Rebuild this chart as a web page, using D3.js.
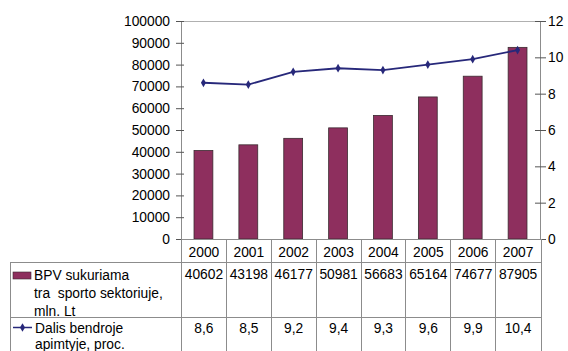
<!DOCTYPE html>
<html>
<head>
<meta charset="utf-8">
<script src="https://cdn.jsdelivr.net/npm/d3@7"></script>
<style>
  html, body { margin: 0; padding: 0; background: #fff; }
  svg text { font-family: "Liberation Sans", Arial, sans-serif; font-size: 13.8px; fill: #000; white-space: pre; }
</style>
</head>
<body>
<svg id="chart" width="568" height="351"></svg>
<script>
// Sport sector value added and its share of the total economy, 2000-2007
const years = ["2000", "2001", "2002", "2003", "2004", "2005", "2006", "2007"];
const bpv = [40602, 43198, 46177, 50981, 56683, 65164, 74677, 87905];
const dalis = [8.6, 8.5, 9.2, 9.4, 9.3, 9.6, 9.9, 10.4];
const dalisLabels = ["8,6", "8,5", "9,2", "9,4", "9,3", "9,6", "9,9", "10,4"];
const leftTicks = [0, 10000, 20000, 30000, 40000, 50000, 60000, 70000, 80000, 90000, 100000];
const rightTicks = [0, 2, 4, 6, 8, 10, 12];
const barLegend = ["BPV sukuriama", "tra  sporto sektoriuje,", "mln. Lt"];
const lineLegend = ["Dalis bendroje", "apimtyje, proc."];

const barColor = "#8e2f5e";
const lineColor = "#27287a";
const gridColor = "#8c8c8c";

const svg = d3.select("#chart");
const plotLeft = 181, plotRight = 540, plotTop = 21, plotBottom = 239;

const x = d3.scaleBand().domain(years).range([plotLeft, plotRight]).paddingInner(0.58).paddingOuter(0.29);
const band = d3.scaleBand().domain(years).range([plotLeft, plotRight]);
const yL = d3.scaleLinear().domain([0, 100000]).range([plotBottom, plotTop]);
const yR = d3.scaleLinear().domain([0, 12]).range([plotBottom, plotTop]);

// top border of the plot area
svg.append("line")
  .attr("x1", plotLeft).attr("x2", plotRight).attr("y1", plotTop + 0.5).attr("y2", plotTop + 0.5)
  .attr("stroke", "#b0b0b0").attr("stroke-width", 1);

// bars
svg.append("g").selectAll("rect").data(years).join("rect")
  .attr("x", d => x(d))
  .attr("y", (d, i) => yL(bpv[i]))
  .attr("width", x.bandwidth())
  .attr("height", (d, i) => yL(0) - yL(bpv[i]))
  .attr("fill", barColor)
  .attr("stroke", "#3a2a30").attr("stroke-width", 0.8);

// left axis
const axL = svg.append("g").attr("transform", `translate(${plotLeft},0)`)
  .call(d3.axisLeft(yL).tickValues(leftTicks).tickSize(5).tickPadding(6).tickFormat(d3.format("d")));
axL.select(".domain").attr("stroke", gridColor);
axL.selectAll(".tick line").attr("stroke", "#555").attr("x2", 3).attr("x1", -5);
axL.selectAll("text").attr("font-size", null).attr("font-family", null).attr("x", -11);

// right axis
const axR = svg.append("g").attr("transform", `translate(${plotRight},0)`)
  .call(d3.axisRight(yR).tickValues(rightTicks).tickSize(6).tickPadding(3).tickFormat(d3.format("d")));
axR.select(".domain").attr("stroke", gridColor);
axR.selectAll(".tick line").attr("stroke", "#555").attr("x1", -5).attr("x2", 6);
axR.selectAll("text").attr("font-size", null).attr("font-family", null).attr("x", 8);

// share line with diamond markers
const line = d3.line().x((d, i) => band(years[i]) + band.bandwidth() / 2).y(d => yR(d));
svg.append("path").datum(dalis).attr("d", line)
  .attr("fill", "none").attr("stroke", lineColor).attr("stroke-width", 1.8);
const diamond = d3.symbol().type(d3.symbolDiamond).size(22);
svg.append("g").selectAll("path").data(dalis).join("path")
  .attr("d", diamond)
  .attr("transform", (d, i) => `translate(${band(years[i]) + band.bandwidth() / 2},${yR(d)})`)
  .attr("fill", lineColor);

// data table
const rowTop = plotBottom, row1 = 262, row2 = 317, tableBottom = 351, tableLeft = 10;
const tbl = svg.append("g").attr("stroke", gridColor).attr("stroke-width", 1);
tbl.append("line").attr("x1", plotLeft).attr("x2", plotRight + 1).attr("y1", rowTop + 0.5).attr("y2", rowTop + 0.5);
tbl.append("line").attr("x1", tableLeft).attr("x2", plotRight + 1).attr("y1", row1 + 0.5).attr("y2", row1 + 0.5);
tbl.append("line").attr("x1", tableLeft).attr("x2", plotRight + 1).attr("y1", row2 + 0.5).attr("y2", row2 + 0.5);
tbl.append("line").attr("x1", tableLeft + 0.5).attr("x2", tableLeft + 0.5).attr("y1", row1).attr("y2", tableBottom);
const colEdges = years.map(d => band(d)).concat([plotRight + 1]);
tbl.selectAll(".col").data(colEdges).join("line")
  .attr("x1", d => Math.round(d) + 0.5).attr("x2", d => Math.round(d) + 0.5)
  .attr("y1", rowTop).attr("y2", tableBottom);

const cx = d => band(d) + band.bandwidth() / 2 + 0.5;
svg.append("g").selectAll("text").data(years).join("text")
  .attr("x", cx).attr("y", 257).attr("text-anchor", "middle").text(d => d);
svg.append("g").selectAll("text").data(years).join("text")
  .attr("x", cx).attr("y", 279).attr("text-anchor", "middle").text((d, i) => bpv[i]);
svg.append("g").selectAll("text").data(years).join("text")
  .attr("x", cx).attr("y", 333).attr("text-anchor", "middle").text((d, i) => dalisLabels[i]);

// row legends
svg.append("rect").attr("x", 13).attr("y", 272).attr("width", 18).attr("height", 7)
  .attr("fill", barColor).attr("stroke", "#3a2a30").attr("stroke-width", 0.6);
svg.append("g").selectAll("text").data(barLegend).join("text")
  .attr("x", 34).attr("y", (d, i) => 280 + i * 18).text(d => d);

svg.append("line").attr("x1", 13).attr("x2", 32).attr("y1", 327.5).attr("y2", 327.5)
  .attr("stroke", lineColor).attr("stroke-width", 1.5);
svg.append("path").attr("d", diamond).attr("transform", "translate(22.5,327.5)").attr("fill", lineColor);
svg.append("g").selectAll("text").data(lineLegend).join("text")
  .attr("x", 35).attr("y", (d, i) => 333 + i * 15.5).text(d => d);
</script>
</body>
</html>
